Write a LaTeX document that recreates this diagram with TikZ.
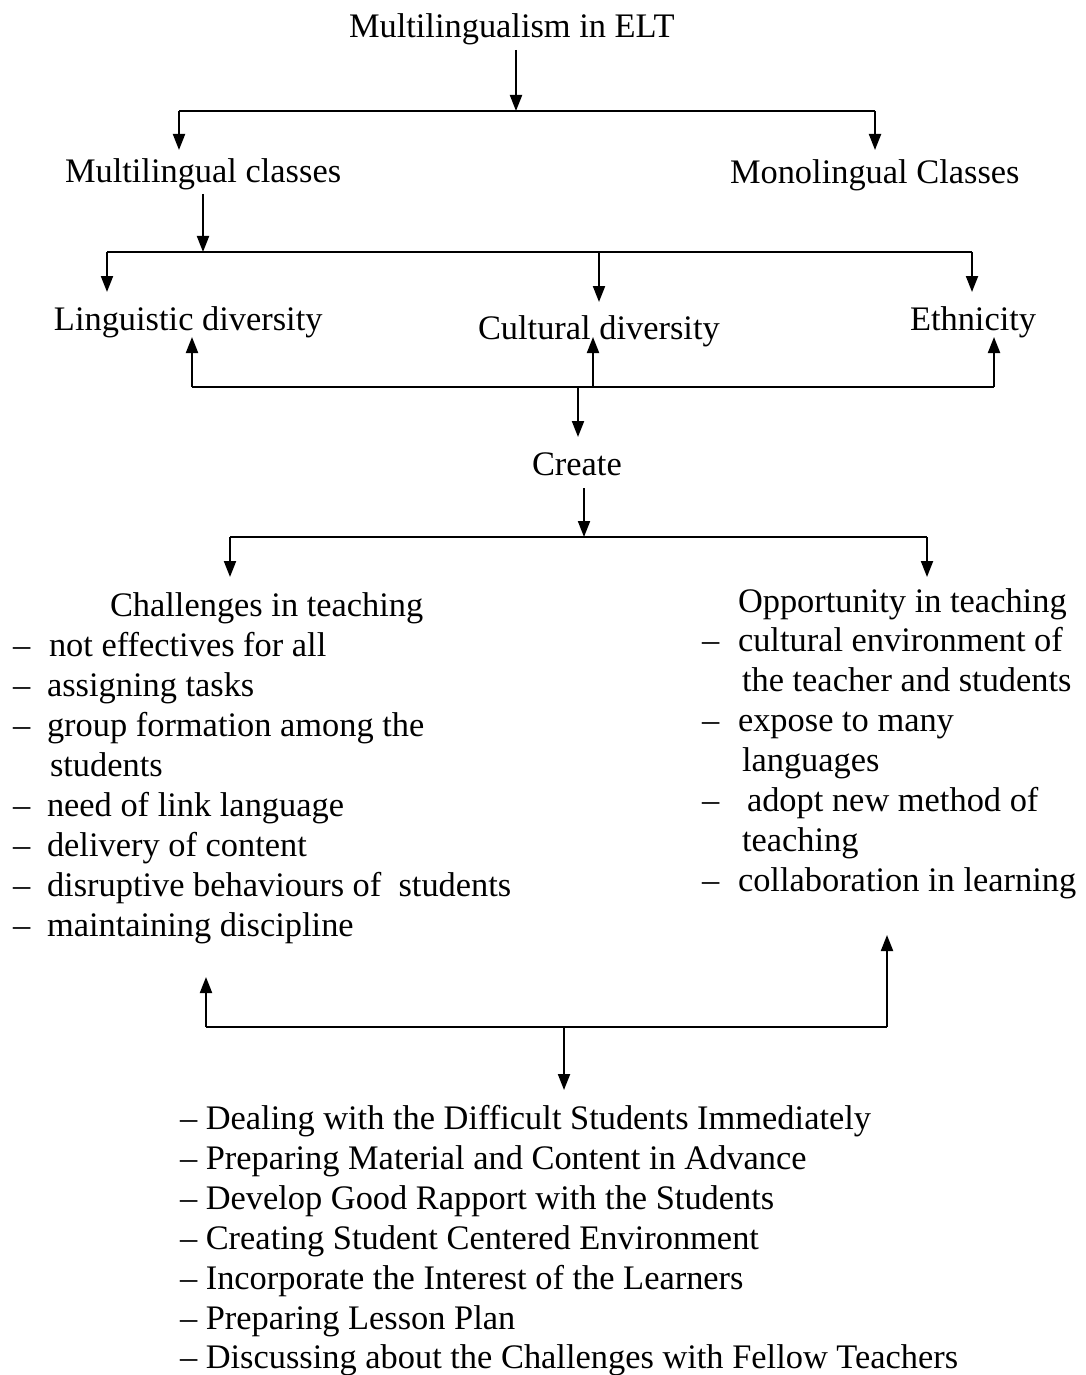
\documentclass[tikz,border=0pt]{standalone}
\usepackage{fontspec}
\setmainfont{Liberation Serif}
\usetikzlibrary{arrows.meta}
\begin{document}
\begin{tikzpicture}[x=0.5pt,y=-0.5pt,
  txt/.style={inner sep=0pt, outer sep=0pt, anchor=base west, font=\fontsize{17.2}{20}\selectfont},
  hl/.style={line width=1.3pt},
  arr/.style={line width=1pt,-{Triangle[length=8pt,width=6pt]}}]
\useasboundingbox (0,0) rectangle (1086,1375);
\fill[white] (0,0) rectangle (1086,1375);

% ---- text nodes ----
\node[txt] (title) at (349,38) {Multilingualism in ELT};
\node[txt] (mlc) at (65,183) {Multilingual classes};
\node[txt] (monc) at (730,184) {Monolingual Classes};
\node[txt] (ling) at (54,330) {Linguistic diversity};
\node[txt] (cult) at (478,339) {Cultural diversity};
\node[txt] (eth) at (910,330) {Ethnicity};
\node[txt] (create) at (532,475) {Create};

\node[txt] (chal) at (110,616) {Challenges in teaching};
\foreach \y in {656,696,736,816,856,896,936}{\node[txt] at (13,\y) {–};}
\node[txt] (c1) at (49,656) {not effectives for all};
\node[txt] (c2) at (47,696) {assigning tasks};
\node[txt] (c3) at (47,736) {group formation among the};
\node[txt] (c3b) at (50,776) {students};
\node[txt] (c4) at (47,816) {need of link language};
\node[txt] (c5) at (47,856) {delivery of content};
\node[txt] (c6) at (47,896) {disruptive behaviours of\ \ students};
\node[txt] (c7) at (47,936) {maintaining discipline};

\node[txt] (opp) at (738,612) {Opportunity in teaching};
\foreach \y in {651,731,811,891}{\node[txt] at (702,\y) {–};}
\node[txt] (o1) at (738,651) {cultural environment of};
\node[txt] (o1b) at (742,691) {the teacher and students};
\node[txt] (o2) at (738,731) {expose to many};
\node[txt] (o2b) at (742,771) {languages};
\node[txt] (o3) at (747,811) {adopt new method of};
\node[txt] (o3b) at (742,851) {teaching};
\node[txt] (o4) at (738,891) {collaboration in learning};

\node[txt] (s1) at (180,1129) {– Dealing with the Difficult Students Immediately};
\node[txt] (s2) at (180,1169) {– Preparing Material and Content in Advance};
\node[txt] (s3) at (180,1209) {– Develop Good Rapport with the Students};
\node[txt] (s4) at (180,1249) {– Creating Student Centered Environment};
\node[txt] (s5) at (180,1289) {– Incorporate the Interest of the Learners};
\node[txt] (s6) at (180,1329) {– Preparing Lesson Plan};
\node[txt] (s7) at (180,1368) {– Discussing about the Challenges with Fellow Teachers};

% ---- junction coordinates ----
\coordinate (t0) at (516,50);
\coordinate (t1) at (516,111);
\coordinate (tl) at (179,111);
\coordinate (tr) at (875,111);
\coordinate (mlcend) at (179,150);
\coordinate (moncend) at (875,150);

\coordinate (m0) at (203,194);
\coordinate (m1) at (203,252);
\coordinate (ml) at (107,252);
\coordinate (mm) at (599,252);
\coordinate (mr) at (972,252);
\coordinate (lingtop) at (107,292);
\coordinate (culttop) at (599,302);
\coordinate (ethtop) at (972,292);

\coordinate (bl) at (192,387);
\coordinate (bm) at (593,387);
\coordinate (br) at (994,387);
\coordinate (bc) at (578,387);
\coordinate (lingbot) at (192,337);
\coordinate (cultbot) at (593,337);
\coordinate (ethbot) at (994,337);
\coordinate (createtop) at (578,437);

\coordinate (k0) at (584,488);
\coordinate (k1) at (584,537);
\coordinate (kl) at (230,537);
\coordinate (kr) at (927,537);
\coordinate (chaltop) at (230,577);
\coordinate (opptop) at (927,577);

\coordinate (ql) at (206,1027);
\coordinate (qr) at (887,1027);
\coordinate (qm) at (564,1027);
\coordinate (chalbot) at (206,977);
\coordinate (oppbot) at (887,935);
\coordinate (stop) at (564,1090);

% ---- connectors ----
\draw[arr] (t0) -- (t1);
\draw[hl] (tl) -- (tr);
\draw[arr] (tl) -- (mlcend);
\draw[arr] (tr) -- (moncend);

\draw[arr] (m0) -- (m1);
\draw[hl] (ml) -- (mr);
\draw[arr] (ml) -- (lingtop);
\draw[arr] (mm) -- (culttop);
\draw[arr] (mr) -- (ethtop);

\draw[hl] (bl) -- (br);
\draw[arr] (bl) -- (lingbot);
\draw[arr] (bm) -- (cultbot);
\draw[arr] (br) -- (ethbot);
\draw[arr] (bc) -- (createtop);

\draw[arr] (k0) -- (k1);
\draw[hl] (kl) -- (kr);
\draw[arr] (kl) -- (chaltop);
\draw[arr] (kr) -- (opptop);

\draw[hl] (ql) -- (qr);
\draw[arr] (ql) -- (chalbot);
\draw[arr] (qr) -- (oppbot);
\draw[arr] (qm) -- (stop);
\end{tikzpicture}
\end{document}
